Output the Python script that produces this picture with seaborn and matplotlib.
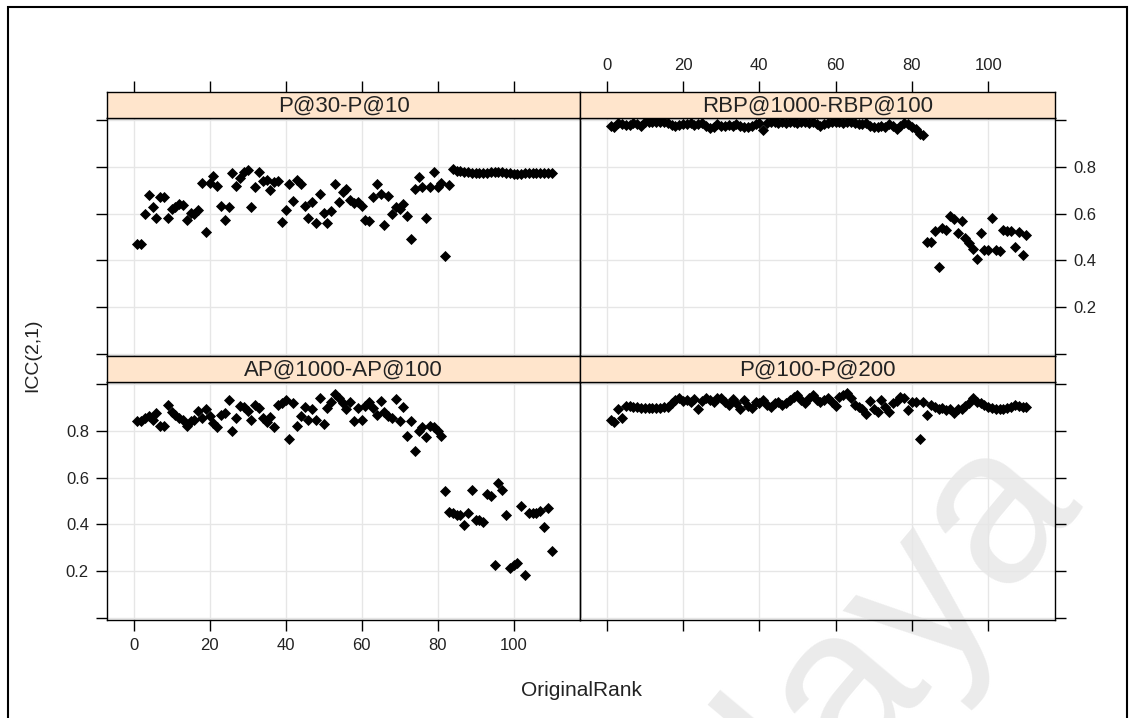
import numpy as np
import pandas as pd
import matplotlib
matplotlib.use("Agg")
import matplotlib.pyplot as plt
from matplotlib.patches import Rectangle
import seaborn as sns

# ---------------- data ----------------
original_rank = list(range(1, 111))

p30_p10 = [0.469, 0.469, 0.597, 0.681, 0.626, 0.579, 0.671, 0.671, 0.579, 0.621,
           0.629, 0.639, 0.636, 0.571, 0.604, 0.600, 0.617, 0.729, 0.521, 0.729,
           0.760, 0.717, 0.631, 0.571, 0.626, 0.774, 0.717, 0.750, 0.779, 0.786,
           0.626, 0.714, 0.779, 0.740, 0.743, 0.700, 0.736, 0.740, 0.564, 0.617,
           0.724, 0.653, 0.743, 0.724, 0.631, 0.579, 0.650, 0.560, 0.683, 0.603,
           0.560, 0.611, 0.724, 0.650, 0.693, 0.703, 0.657, 0.643, 0.647, 0.631,
           0.571, 0.567, 0.671, 0.724, 0.683, 0.550, 0.674, 0.596, 0.629, 0.621,
           0.639, 0.589, 0.493, 0.704, 0.754, 0.714, 0.579, 0.714, 0.779, 0.714,
           0.729, 0.419, 0.721, 0.791, 0.783, 0.781, 0.776, 0.776, 0.774, 0.771,
           0.771, 0.773, 0.774, 0.776, 0.777, 0.777, 0.776, 0.774, 0.771, 0.769,
           0.769, 0.770, 0.771, 0.771, 0.771, 0.771, 0.771, 0.773, 0.773, 0.771]

rbp1000_rbp100 = [0.972, 0.968, 0.985, 0.982, 0.978, 0.978, 0.985, 0.980, 0.975, 0.988,
                  0.990, 0.992, 0.990, 0.990, 0.988, 0.985, 0.978, 0.975, 0.978, 0.980,
                  0.983, 0.985, 0.978, 0.982, 0.985, 0.975, 0.965, 0.968, 0.982, 0.975,
                  0.972, 0.978, 0.975, 0.980, 0.975, 0.970, 0.968, 0.975, 0.980, 0.985,
                  0.955, 0.985, 0.990, 0.988, 0.985, 0.988, 0.985, 0.990, 0.988, 0.985,
                  0.990, 0.988, 0.985, 0.988, 0.982, 0.975, 0.980, 0.985, 0.988, 0.990,
                  0.988, 0.985, 0.990, 0.988, 0.985, 0.982, 0.980, 0.985, 0.975, 0.968,
                  0.970, 0.975, 0.968, 0.980, 0.975, 0.962, 0.975, 0.985, 0.980, 0.970,
                  0.962, 0.940, 0.935, 0.478, 0.480, 0.526, 0.370, 0.540, 0.528, 0.590,
                  0.575, 0.518, 0.566, 0.497, 0.476, 0.447, 0.405, 0.515, 0.443, 0.446,
                  0.580, 0.446, 0.442, 0.530, 0.526, 0.526, 0.459, 0.520, 0.425, 0.510]

ap1000_ap100 = [0.840, 0.840, 0.854, 0.861, 0.847, 0.876, 0.821, 0.821, 0.911, 0.878,
                0.868, 0.854, 0.844, 0.821, 0.840, 0.847, 0.883, 0.854, 0.893, 0.861,
                0.833, 0.816, 0.868, 0.876, 0.930, 0.797, 0.854, 0.904, 0.901, 0.883,
                0.844, 0.911, 0.897, 0.854, 0.836, 0.858, 0.816, 0.911, 0.916, 0.930,
                0.766, 0.918, 0.821, 0.864, 0.901, 0.847, 0.890, 0.847, 0.940, 0.830,
                0.897, 0.921, 0.954, 0.940, 0.916, 0.893, 0.921, 0.840, 0.897, 0.847,
                0.904, 0.921, 0.897, 0.868, 0.925, 0.878, 0.864, 0.854, 0.933, 0.840,
                0.901, 0.779, 0.840, 0.712, 0.797, 0.816, 0.773, 0.819, 0.816, 0.797,
                0.779, 0.541, 0.451, 0.448, 0.441, 0.441, 0.398, 0.448, 0.548, 0.417,
                0.420, 0.409, 0.530, 0.522, 0.227, 0.576, 0.548, 0.441, 0.213, 0.227,
                0.234, 0.477, 0.185, 0.448, 0.448, 0.448, 0.459, 0.391, 0.469, 0.289]

p100_p200 = [0.845, 0.838, 0.890, 0.852, 0.905, 0.903, 0.900, 0.900, 0.898, 0.897,
             0.897, 0.897, 0.895, 0.897, 0.900, 0.900, 0.916, 0.930, 0.940, 0.926,
             0.930, 0.923, 0.934, 0.891, 0.926, 0.940, 0.930, 0.923, 0.937, 0.937,
             0.920, 0.909, 0.934, 0.916, 0.894, 0.930, 0.906, 0.897, 0.923, 0.916,
             0.930, 0.909, 0.901, 0.916, 0.923, 0.909, 0.916, 0.930, 0.944, 0.951,
             0.930, 0.916, 0.937, 0.951, 0.930, 0.923, 0.930, 0.937, 0.923, 0.906,
             0.944, 0.951, 0.959, 0.937, 0.909, 0.901, 0.894, 0.869, 0.926, 0.894,
             0.880, 0.930, 0.901, 0.880, 0.916, 0.926, 0.944, 0.937, 0.887, 0.920,
             0.920, 0.763, 0.923, 0.866, 0.909, 0.901, 0.891, 0.897, 0.887, 0.894,
             0.873, 0.891, 0.894, 0.906, 0.916, 0.937, 0.923, 0.916, 0.911, 0.901,
             0.897, 0.894, 0.891, 0.894, 0.897, 0.901, 0.909, 0.906, 0.901, 0.901]

panel_names = ["P@30-P@10", "RBP@1000-RBP@100", "AP@1000-AP@100", "P@100-P@200"]
series = [p30_p10, rbp1000_rbp100, ap1000_ap100, p100_p200]
x_ticks = [0, 20, 40, 60, 80, 100]
y_ticks = [0.0, 0.2, 0.4, 0.6, 0.8, 1.0]
y_tick_labels = ["", "0.2", "0.4", "0.6", "0.8", ""]

df = pd.concat([pd.DataFrame({"OriginalRank": original_rank, "ICC": v, "Measure": n})
                for n, v in zip(panel_names, series)], ignore_index=True)

# ---------------- style ----------------
sns.set_theme(style="white")
plt.rcParams["font.family"] = ["Liberation Sans", "DejaVu Sans"]
TXT = "#222222"

W, H = 1134, 718
fig = plt.figure(figsize=(W / 100, H / 100), dpi=100)
fig.patch.set_facecolor("white")


def rect(x0, x1, y0, y1):
    return [x0 / W, 1 - y1 / H, (x1 - x0) / W, (y1 - y0) / H]


cols = [(107, 580), (580, 1055)]
rows = [((92, 118), (118, 355.5)), ((355.5, 382), (382, 619.5))]
layout = {"P@30-P@10": (0, 0), "RBP@1000-RBP@100": (0, 1),
          "AP@1000-AP@100": (1, 0), "P@100-P@200": (1, 1)}
XLIM = (-7.0, 117.5)
YLIM = (-0.005, 1.007)

for name in panel_names:
    r, c = layout[name]
    (sy0, sy1), (py0, py1) = rows[r]
    x0, x1 = cols[c]
    ax = fig.add_axes(rect(x0, x1, py0, py1))
    ax.set_facecolor("none")
    sub = df[df["Measure"] == name]
    sns.scatterplot(data=sub, x="OriginalRank", y="ICC", ax=ax, marker="D",
                    color="black", s=32, linewidth=0, legend=False, zorder=3)
    ax.set_xlim(*XLIM)
    ax.set_ylim(*YLIM)
    ax.set_xlabel("")
    ax.set_ylabel("")
    ax.set_xticks(x_ticks)
    ax.set_yticks(y_ticks)
    ax.set_yticklabels(y_tick_labels)
    ax.grid(True, color="#e6e6e6", lw=1.0)
    ax.set_axisbelow(True)
    for sp in ax.spines.values():
        sp.set_color("black")
        sp.set_linewidth(1.0)
    ax.tick_params(axis="both", direction="out", length=8, width=1.0, color="black",
                   labelsize=12, labelcolor=TXT, pad=5)
    ax.tick_params(axis="x", top=False, bottom=(r == 1), labelbottom=(r == 1 and c == 0))
    ax.tick_params(axis="y", left=(c == 0), right=(c == 1),
                   labelleft=(c == 0 and r == 1), labelright=(c == 1 and r == 0))

    sax = fig.add_axes(rect(x0, x1, sy0, sy1))
    sax.set_facecolor("#FFE5CC")
    sax.set_xlim(*XLIM)
    sax.set_yticks([])
    sax.set_xticks(x_ticks)
    sax.grid(False)
    for sp in sax.spines.values():
        sp.set_color("black")
        sp.set_linewidth(1.0)
    sax.tick_params(axis="x", direction="out", length=8, width=1.0, color="black",
                    labelsize=12, labelcolor=TXT, pad=6, bottom=False,
                    labelbottom=False, top=(r == 0), labeltop=(r == 0 and c == 1))
    sax.text(0.5, 0.45, name, transform=sax.transAxes, ha="center", va="center",
             fontsize=16, color=TXT)

fig.text(581 / W, 1 - 690 / H, "OriginalRank", ha="center", va="center",
         fontsize=15, color=TXT)
fig.text(33 / W, 1 - 355 / H, "ICC(2,1)", ha="center", va="center",
         rotation=90, fontsize=14, color=TXT)

# watermark
fig.text(1078 / W, 1 - 492 / H, "Malaya", rotation=50, rotation_mode="anchor",
         ha="right", va="baseline", fontsize=160, color="#ebebeb", zorder=-1)

# outer border
fig.add_artist(Rectangle((8 / W, -0.02), (1127 - 8) / W, 1 - 7 / H + 0.02,
                         transform=fig.transFigure, fill=False, lw=1.5,
                         edgecolor="black"))

fig.savefig("out.png", dpi=100)
